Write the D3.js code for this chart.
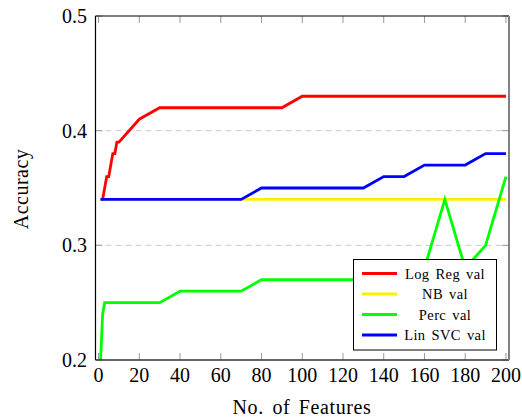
<!DOCTYPE html>
<html>
<head>
<meta charset="utf-8">
<script src="https://cdn.jsdelivr.net/npm/d3@7"></script>
<style>
html, body { margin: 0; padding: 0; background: #fff; }
svg { display: block; }
svg text { font-family: "Liberation Serif", "DejaVu Serif", serif; }
</style>
</head>
<body>
<svg id="chart" width="522" height="418"></svg>
<script>
// ---- data ----
const features = [1,2,3,4,5,6,7,8,9,10,20,30,40,50,60,70,80,90,100,110,120,130,140,150,160,170,180,190,200];
const logRegVal = [0.34,0.34,0.35,0.36,0.36,0.37,0.38,0.38,0.39,0.39,0.41,0.42,0.42,0.42,0.42,0.42,0.42,0.42,0.43,0.43,0.43,0.43,0.43,0.43,0.43,0.43,0.43,0.43,0.43];
const nbVal     = [0.34,0.34,0.34,0.34,0.34,0.34,0.34,0.34,0.34,0.34,0.34,0.34,0.34,0.34,0.34,0.34,0.34,0.34,0.34,0.34,0.34,0.34,0.34,0.34,0.34,0.34,0.34,0.34,0.34];
const percVal   = [0.20,0.24,0.25,0.25,0.25,0.25,0.25,0.25,0.25,0.25,0.25,0.25,0.26,0.26,0.26,0.26,0.27,0.27,0.27,0.27,0.27,0.27,0.27,0.27,0.28,0.34,0.28,0.30,0.36];
const linSvcVal = [0.34,0.34,0.34,0.34,0.34,0.34,0.34,0.34,0.34,0.34,0.34,0.34,0.34,0.34,0.34,0.34,0.35,0.35,0.35,0.35,0.35,0.35,0.36,0.36,0.37,0.37,0.37,0.38,0.38];
const seriesNames = ["Log Reg val","NB val","Perc val","Lin SVC val"];
const seriesColors = ["#ff0000","#ffee00","#00ff00","#0000ff"];
const xTicks = [0,20,40,60,80,100,120,140,160,180,200];
const yTicks = [0.2,0.3,0.4,0.5];
const xLabel = "No. of Features";
const yLabel = "Accuracy";

const seriesValues = [logRegVal, nbVal, percVal, linSvcVal];

const svg = d3.select("#chart");
const L = 95.5, R = 509, T = 16, B = 360;
const x = d3.scaleLinear().domain([-1.5, 201.5]).range([L, R]);
const y = d3.scaleLinear().domain([0.2, 0.5]).range([B, T]);

// grid
svg.append("g").selectAll("line").data(yTicks.filter(v => v > 0.2 && v < 0.5)).join("line")
  .attr("x1", L).attr("x2", R).attr("y1", d => y(d)).attr("y2", d => y(d))
  .attr("stroke", "#c8c8c8").attr("stroke-width", 1).attr("stroke-dasharray", "6,4");

// ticks (inside, gray)
const tickLen = 7;
const tg = svg.append("g").attr("stroke", "#9a9a9a").attr("stroke-width", 1);
tg.selectAll(".bt").data(xTicks).join("line")
  .attr("x1", d => x(d)).attr("x2", d => x(d)).attr("y1", B).attr("y2", B - tickLen);
tg.selectAll(".tt").data(xTicks).join("line")
  .attr("x1", d => x(d)).attr("x2", d => x(d)).attr("y1", T).attr("y2", T + tickLen);
tg.selectAll(".lt").data(yTicks).join("line")
  .attr("y1", d => y(d)).attr("y2", d => y(d)).attr("x1", L).attr("x2", L + tickLen);
tg.selectAll(".rt").data(yTicks).join("line")
  .attr("y1", d => y(d)).attr("y2", d => y(d)).attr("x1", R).attr("x2", R - tickLen);

// lines
const line = d3.line().x((d, i) => x(features[i])).y(d => y(d));
svg.append("g").selectAll("path").data(seriesValues).join("path")
  .attr("d", d => line(d))
  .attr("fill", "none")
  .attr("stroke", (d, i) => seriesColors[i])
  .attr("stroke-width", 2.8)
  .attr("stroke-linejoin", "miter");

// frame
svg.append("line").attr("x1", L).attr("x2", L).attr("y1", T).attr("y2", B).attr("stroke", "#000").attr("stroke-width", 1.2);
svg.append("line").attr("x1", L).attr("x2", R).attr("y1", T).attr("y2", T).attr("stroke", "#000").attr("stroke-width", 1.2);
svg.append("line").attr("x1", L).attr("x2", R).attr("y1", B).attr("y2", B).attr("stroke", "#333").attr("stroke-width", 1.4);
svg.append("line").attr("x1", R).attr("x2", R).attr("y1", T).attr("y2", B).attr("stroke", "#808080").attr("stroke-width", 2);

// tick labels
svg.append("g").selectAll("text").data(xTicks).join("text")
  .attr("x", d => x(d)).attr("y", 382)
  .attr("text-anchor", "middle").attr("font-size", 20).attr("fill", "#000")
  .text(d => d3.format("d")(d));
svg.append("g").selectAll("text").data(yTicks).join("text")
  .attr("x", 87).attr("y", d => y(d) + 7)
  .attr("text-anchor", "end").attr("font-size", 20).attr("fill", "#000")
  .text(d => d3.format(".1f")(d));

// axis labels
svg.append("text").attr("x", 302).attr("y", 414).attr("text-anchor", "middle")
  .attr("font-size", 20).attr("letter-spacing", 0.6).attr("word-spacing", 3).text(xLabel);
svg.append("text").attr("transform", "translate(28,189) rotate(-90)").attr("text-anchor", "middle")
  .attr("font-size", 20).attr("letter-spacing", 0.5).text(yLabel);

// legend
const lg = svg.append("g");
lg.append("rect").attr("x", 353.5).attr("y", 259.5).attr("width", 143).attr("height", 90.5)
  .attr("fill", "#fff").attr("stroke", "#000").attr("stroke-width", 1);
const rowY = [273.5, 294, 314.5, 335];
seriesNames.forEach((name, i) => {
  lg.append("line").attr("x1", 362).attr("x2", 397).attr("y1", rowY[i]).attr("y2", rowY[i])
    .attr("stroke", seriesColors[i]).attr("stroke-width", 2.8);
  lg.append("text").attr("x", 445).attr("y", rowY[i] + 5).attr("text-anchor", "middle")
    .attr("font-size", 14.5).attr("letter-spacing", 0.4).attr("word-spacing", 2).text(name);
});
</script>
</body>
</html>
